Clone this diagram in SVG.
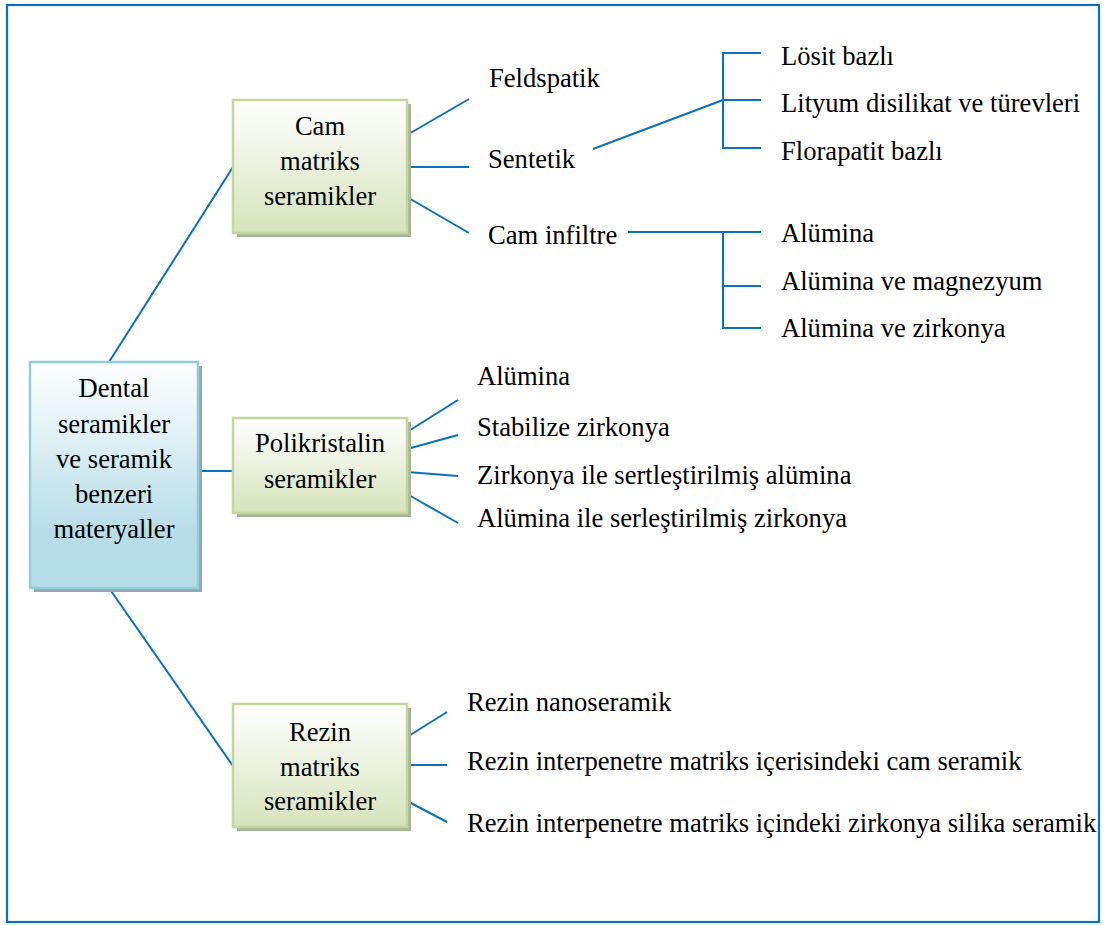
<svg xmlns="http://www.w3.org/2000/svg" width="1104" height="925" viewBox="0 0 1104 925">
<defs>
<linearGradient id="gGreen" x1="0" y1="0" x2="0" y2="1">
<stop offset="0" stop-color="#ffffff"/>
<stop offset="1" stop-color="#d6e3bc"/>
</linearGradient>
<linearGradient id="gBlue" x1="0" y1="0" x2="0" y2="1">
<stop offset="0" stop-color="#ffffff"/>
<stop offset="0.75" stop-color="#b8dde8"/>
<stop offset="1" stop-color="#b6dce7"/>
</linearGradient>
</defs>
<style>
.t{font-family:'Liberation Serif','Times New Roman',Times,serif;font-size:26.6px;fill:#000}
.c{text-anchor:middle}
.ln{stroke:#0a70c2;stroke-width:2;fill:none}
.gbox{fill:url(#gGreen);stroke:#c3d69b;stroke-width:2.5}
.gsh{fill:#a9b598}
.bbox{fill:url(#gBlue);stroke:#92cddc;stroke-width:2.5}
.bsh{fill:#93a9b2}
</style>
<rect x="0" y="0" width="1104" height="925" fill="#ffffff"/>
<rect x="7" y="5" width="1092" height="917" fill="none" stroke="#0a70c2" stroke-width="2.2"/>
<g id="connectors">
<line class="ln" x1="109" y1="362" x2="233" y2="167"/>
<line class="ln" x1="198" y1="471" x2="233" y2="471"/>
<line class="ln" x1="109" y1="588" x2="233" y2="766"/>
<line class="ln" x1="407" y1="135" x2="469" y2="99"/>
<line class="ln" x1="407" y1="167" x2="469" y2="167"/>
<line class="ln" x1="407" y1="197" x2="469" y2="233"/>
<line class="ln" x1="593" y1="149" x2="723" y2="100"/>
<polyline class="ln" points="761,53 723,53 723,148 761,148"/>
<line class="ln" x1="723" y1="100" x2="761" y2="100"/>
<line class="ln" x1="628" y1="232" x2="761" y2="232"/>
<polyline class="ln" points="723,232 723,328 761,328"/>
<line class="ln" x1="723" y1="286" x2="761" y2="286"/>
<line class="ln" x1="407" y1="432" x2="458" y2="400"/>
<line class="ln" x1="407" y1="449" x2="458" y2="435"/>
<line class="ln" x1="407" y1="472" x2="458" y2="476"/>
<line class="ln" x1="407" y1="494" x2="458" y2="523"/>
<line class="ln" x1="407" y1="737" x2="447" y2="712"/>
<line class="ln" x1="407" y1="765" x2="447" y2="765"/>
<line class="ln" x1="407" y1="801" x2="447" y2="822"/>
</g>
<g font-family="Liberation Serif, Times New Roman, serif" font-size="26.6" fill="#000">
<g id="node-dental">
<rect class="bsh" x="34" y="366" width="168" height="226"/>
<rect class="bbox" x="30" y="362" width="168" height="226"/>
<text class="t c" x="114" y="397">Dental</text>
<text class="t c" x="114" y="433">seramikler</text>
<text class="t c" x="114" y="468">ve seramik</text>
<text class="t c" x="114" y="503">benzeri</text>
<text class="t c" x="114" y="538">materyaller</text>
</g>
<g id="node-cam">
<rect class="gsh" x="237" y="104" width="174" height="133"/>
<rect class="gbox" x="233" y="100" width="174" height="133"/>
<text class="t c" x="320" y="135">Cam</text>
<text class="t c" x="320" y="170">matriks</text>
<text class="t c" x="320" y="205">seramikler</text>
</g>
<g id="node-poli">
<rect class="gsh" x="237" y="422" width="174" height="95"/>
<rect class="gbox" x="233" y="418" width="174" height="95"/>
<text class="t c" x="320" y="452">Polikristalin</text>
<text class="t c" x="320" y="488">seramikler</text>
</g>
<g id="node-rezin">
<rect class="gsh" x="237" y="708" width="174" height="123"/>
<rect class="gbox" x="233" y="704" width="174" height="123"/>
<text class="t c" x="320" y="741">Rezin</text>
<text class="t c" x="320" y="776">matriks</text>
<text class="t c" x="320" y="810">seramikler</text>
</g>
<g id="leaf-feldspatik"><text class="t" x="489" y="87">Feldspatik</text></g>
<g id="leaf-sentetik"><text class="t" x="488" y="168">Sentetik</text></g>
<g id="leaf-caminfiltre"><text class="t" x="488" y="244">Cam infiltre</text></g>
<g id="leaf-losit"><text class="t" x="781" y="65">Lösit bazlı</text></g>
<g id="leaf-lityum"><text class="t" x="781" y="112">Lityum disilikat ve türevleri</text></g>
<g id="leaf-florapatit"><text class="t" x="781" y="160">Florapatit bazlı</text></g>
<g id="leaf-alumina1"><text class="t" x="781" y="242">Alümina</text></g>
<g id="leaf-alumina-mag"><text class="t" x="781" y="290">Alümina ve magnezyum</text></g>
<g id="leaf-alumina-zirk"><text class="t" x="781" y="337">Alümina ve zirkonya</text></g>
<g id="leaf-alumina2"><text class="t" x="477" y="385">Alümina</text></g>
<g id="leaf-stabilize"><text class="t" x="477" y="436">Stabilize zirkonya</text></g>
<g id="leaf-zta"><text class="t" x="477" y="484">Zirkonya ile sertleştirilmiş alümina</text></g>
<g id="leaf-atz"><text class="t" x="477" y="527">Alümina ile serleştirilmiş zirkonya</text></g>
<g id="leaf-nano"><text class="t" x="467" y="711">Rezin nanoseramik</text></g>
<g id="leaf-cam-ser"><text class="t" x="467" y="770">Rezin interpenetre matriks içerisindeki cam seramik</text></g>
<g id="leaf-zirk-sil"><text class="t" x="467" y="832">Rezin interpenetre matriks içindeki zirkonya silika seramik</text></g>
</g>
</svg>
